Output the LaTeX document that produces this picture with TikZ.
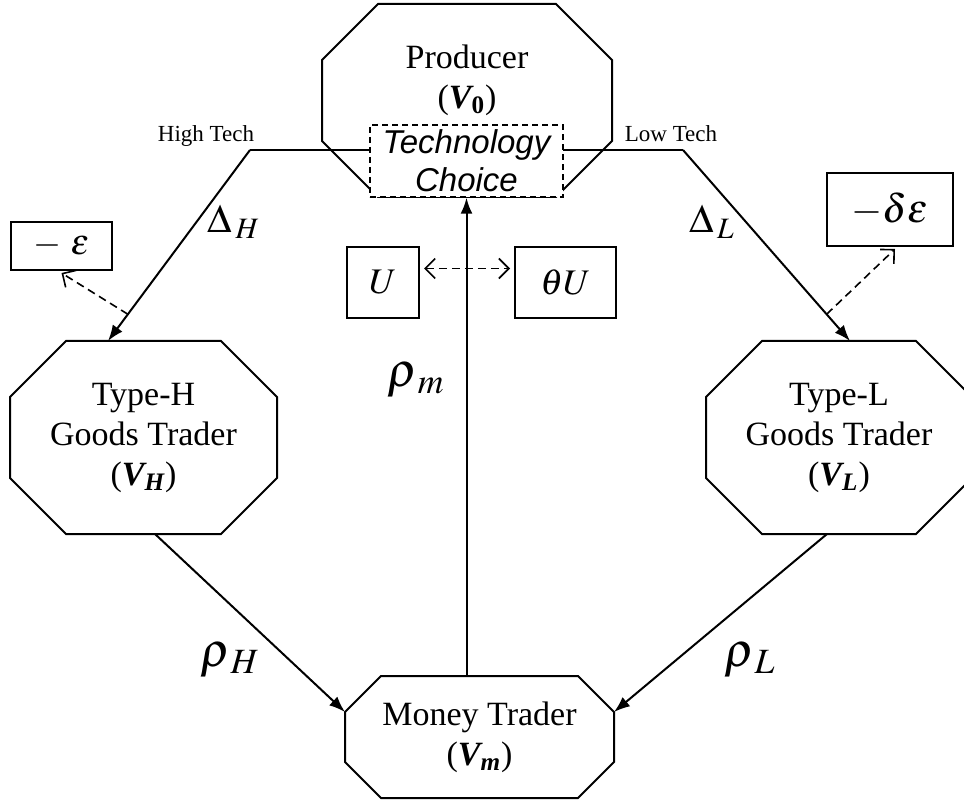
\documentclass[tikz,border=0pt]{standalone}
\usepackage{mathptmx}
\usepackage[no-math]{fontspec}
\setmainfont{Liberation Serif}
\setsansfont{Liberation Sans}
\usetikzlibrary{arrows.meta,calc}
\tikzset{barb/.tip={Straight Barb[length=5pt,width=10pt]}}

\begin{document}
\begin{tikzpicture}[x=.5pt,y=-.5pt,line width=1pt,>={Latex[length=8pt,width=6pt]},
        font=\fontsize{17}{20}\selectfont,
        agent/.style={inner sep=0pt,align=center},
        valbox/.style={draw,inner sep=0pt},
        mlab/.style={font=\fontsize{20}{24}\selectfont},
        rlab/.style={font=\fontsize{24}{28}\selectfont},
        dline/.style={line width=.8pt,dash pattern=on 4pt off 2.5pt}]
        \def\bV#1{({\bfseries\itshape V}\textsubscript{\bfseries\itshape #1})}
        \def\octa#1#2{\draw ([xshift=#2]#1.north west)--([xshift=-#2]#1.north east)--([yshift=-#2]#1.north east)
                --([yshift=#2]#1.south east)--([xshift=-#2]#1.south east)--([xshift=#2]#1.south west)
                --([yshift=#2]#1.south west)--([yshift=-#2]#1.north west)--cycle;}
        \useasboundingbox (0,0) rectangle (964,802);
        %===========================================
        \node[agent,minimum width=144pt,minimum height=95.5pt] (prod) at (467,100.5) {};
        \node[agent] (prodtxt) at (467,80) {Producer\\\bV{\upshape 0}};
        \node[agent,minimum width=132.5pt,minimum height=95.5pt] (tch) at (143.5,437.5) {Type-H\\Goods Trader\\\bV{H}};
        \node[agent,minimum width=132pt,minimum height=95.5pt] (tcl) at (839,437.5) {Type-L\\Goods Trader\\\bV{L}};
        \node[agent,minimum width=133.5pt,minimum height=60pt] (mon) at (479.5,737) {Money Trader\\\bV{m}};
        \octa{prod}{28pt} \octa{tch}{28pt} \octa{tcl}{28pt} \octa{mon}{18pt}
        %===========================================
        \coordinate (hi) at (250,150);
        \coordinate (lo) at (683,150);
        \coordinate (hitip) at ([xshift=-17.75pt]tch.north);
        \coordinate (lotip) at ([xshift=5.5pt]tcl.north);
        \draw[->] (hi) -- (hitip);
        \draw (hi) -- (400,150);
        \draw[->] (lo) -- (lotip);
        \draw (lo) -- (530,150);
        \node[draw,line width=.75pt,dash pattern=on 3pt off 2pt,fill=white,minimum width=96.5pt,minimum height=36pt,
                inner sep=0pt,align=center,font=\fontsize{16.5}{19}\selectfont\sffamily\itshape] (tech) at (466.5,161) {Technology\\Choice};
        \node[font=\fontsize{11.5}{12}\selectfont,anchor=base] (hitxt) at (206,142) {High Tech};
        \node[font=\fontsize{11.5}{12}\selectfont,anchor=base] (lotxt) at (671,142) {Low Tech};
        %===========================================
        \draw[->] (tech.south |- mon.north) -- (tech.south);
        \draw[->] ([xshift=5.75pt]tch.south) -- ([yshift=12.5pt]mon.west);
        \draw[->] ([xshift=-6pt]tcl.south) -- ([yshift=12.5pt]mon.east);
        %===========================================
        \node[valbox,minimum width=36pt,minimum height=35.5pt,font=\fontsize{18}{20}\selectfont] (u) at (383,282.5) {$U$};
        \node[valbox,minimum width=50.5pt,minimum height=35.5pt,font=\fontsize{18}{20}\selectfont] (thu) at (565.5,282.5) {$\theta U$};
        \node[valbox,minimum width=50.5pt,minimum height=24pt,font=\fontsize{18}{20}\selectfont] (eps) at (61.5,246) {$-\ \varepsilon$};
        \node[valbox,minimum width=63pt,minimum height=36.5pt,font=\fontsize{20}{22}\selectfont] (deps) at (890,209.5) {$-\delta\varepsilon$};
        \draw[dline,barb-barb] ([xshift=2pt,yshift=7pt]u.east) -- ([xshift=-2pt,yshift=7pt]thu.west);
        \draw[dline,-barb] ($(hi)!.86!(hitip)$) -- ([yshift=-1pt]eps.south);
        \draw[dline,-barb] ($(lo)!.86!(lotip)$) -- ([xshift=2.5pt,yshift=-1pt]deps.south);
        %===========================================
        \node[mlab] (dh) at (234,222) {$\Delta_{\,H}$};
        \node[mlab] (dl) at (712,222) {$\Delta_{\,L}$};
        \node[rlab] (rm) at (416,380) {$\rho_{\,m}$};
        \node[rlab] (rh) at (230,660) {$\rho_{\,H}$};
        \node[rlab] (rl) at (750,660) {$\rho_{\,L}$};
\end{tikzpicture}
\end{document}
